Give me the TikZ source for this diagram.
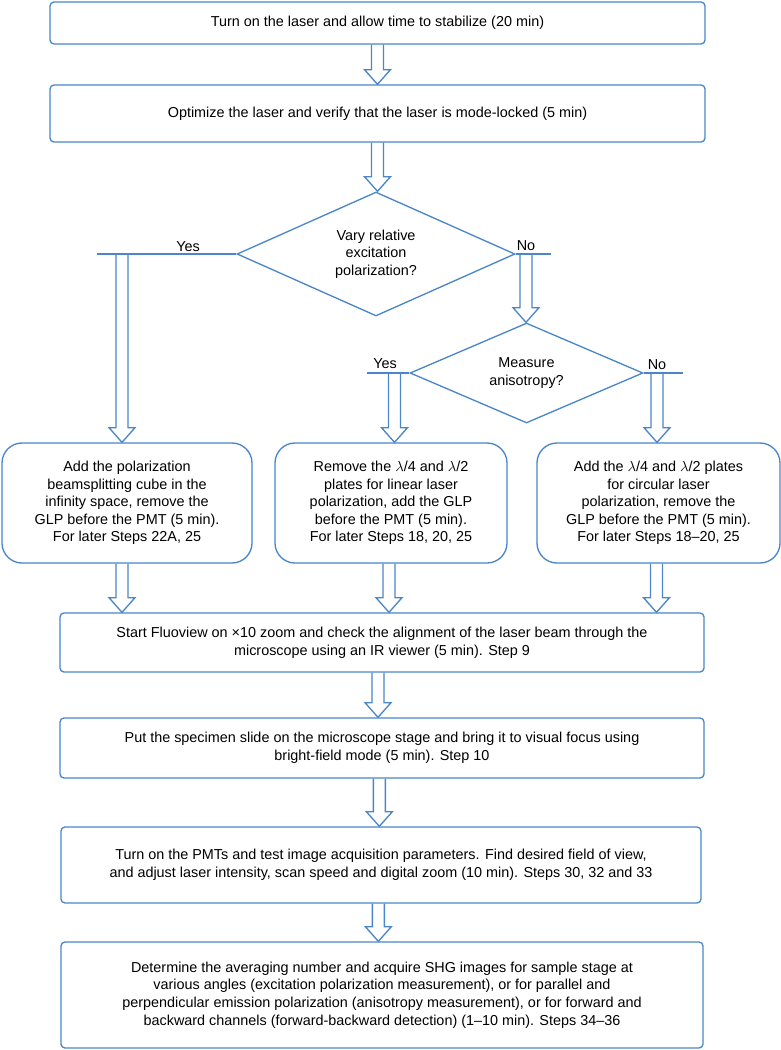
\documentclass[tikz,border=0pt]{standalone}
\usepackage{fontspec}
\setmainfont{Liberation Sans}
\usetikzlibrary{shapes.geometric,calc}
\definecolor{flowblue}{RGB}{74,134,200}
\begin{document}
\begin{tikzpicture}[x=0.75pt,y=-0.75pt,
  font=\fontsize{10.8pt}{13.2pt}\selectfont,
  box/.style={draw=flowblue, line width=1pt, rounded corners=3pt, align=center, inner sep=0pt},
  bigbox/.style={box, rounded corners=15pt},
  decision/.style={draw=flowblue, line width=1pt, diamond, align=center, inner sep=0pt},
  branch/.style={draw=flowblue, line width=1pt},
  hollow/.style={draw=flowblue, line width=1pt, to path={let \p1=(\tikztostart), \p2=(\tikztotarget) in
    (\x1-4.5pt,\y1) -- (\x1-4.5pt,\y2+11pt) -- (\x1-9.75pt,\y2+11pt) -- (\x1,\y2)
    -- (\x1+9.75pt,\y2+11pt) -- (\x1+4.5pt,\y2+11pt) -- (\x1+4.5pt,\y1)}}]
\useasboundingbox (0,0) rectangle (781,1050);
\node[box, minimum width=491.25pt, minimum height=31.5pt] (laser) at (377.5,23) {Turn on the laser and allow time to stabilize (20 min)};
\node[box, minimum width=491.25pt, minimum height=42.75pt] (optim) at (377.5,113.5) {Optimize the laser and verify that the laser is mode-locked (5 min)};
\draw[hollow] (laser.south) to (optim.north);
\node[decision, aspect=2.2, minimum width=208.5pt, minimum height=93pt] (vary) at (376,254) {Vary relative\\excitation\\polarization?};
\draw[hollow] (optim.south) to (vary.north);
% first decision: yes / no
\coordinate (yesL) at (97,254);
\coordinate (yesA) at (122,254);
\coordinate (noR) at (551,254);
\coordinate (noA) at (526,254);
\draw[branch] (vary.west) -- (yesL);
\draw[branch] (vary.east) -- (noR);
\node[anchor=base] (yes1) at (188,251) {Yes};
\node[anchor=base] (no1) at (526,250) {No};
\node[decision, aspect=2.3, minimum width=174.75pt, minimum height=75pt] (aniso) at (526.5,373) {Measure\\anisotropy?};
\draw[hollow] (noA) to (aniso.north);
% second decision: yes / no
\coordinate (yesM) at (367,373);
\coordinate (yesMA) at (394.5,373);
\coordinate (noM) at (683,373);
\coordinate (noMA) at (657,373);
\draw[branch] (aniso.west) -- (yesM);
\draw[branch] (aniso.east) -- (noM);
\node[anchor=base] (yes2) at (385,368) {Yes};
\node[anchor=base] (no2) at (657,369) {No};
% three set-ups
\node[bigbox, minimum width=187.5pt, minimum height=90pt] (cube) at (127,503) {Add the polarization\\beamsplitting cube in the\\infinity space, remove the\\GLP before the PMT (5 min).\\For later Steps 22A, 25};
\node[bigbox, minimum width=174pt, minimum height=90pt] (linear) at (391,503) {Remove the $\lambda$/4 and $\lambda$/2\\plates for linear laser\\polarization, add the GLP\\before the PMT (5 min).\\For later Steps 18, 20, 25};
\node[bigbox, minimum width=182.25pt, minimum height=90pt] (circ) at (658.5,503) {Add the $\lambda$/4 and $\lambda$/2 plates\\for circular laser\\polarization, remove the\\GLP before the PMT (5 min).\\For later Steps 18--20, 25};
\draw[hollow] (yesA) to (cube.north);
\draw[hollow] (yesMA) to (linear.north);
\draw[hollow] (noMA) to (circ.north);
\node[box, minimum width=483pt, minimum height=44.25pt] (fluo) at (382,642.5) {Start Fluoview on ×10 zoom and check the alignment of the laser beam through the\\microscope using an IR viewer (5 min). Step 9};
\draw[hollow] ([xshift=-3.75pt]cube.south) to (fluo.north);
\draw[hollow] ([xshift=-1.5pt]linear.south) to (fluo.north);
\draw[hollow] ([xshift=-1.5pt]circ.south) to (fluo.north);
\node[box, minimum width=483pt, minimum height=45pt] (slide) at (382,748) {Put the specimen slide on the microscope stage and bring it to visual focus using\\bright-field mode (5 min). Step 10};
\draw[hollow] ([xshift=-3pt]fluo.south) to (slide.north);
\node[box, minimum width=480pt, minimum height=57pt] (pmt) at (381,865) {Turn on the PMTs and test image acquisition parameters. Find desired field of view,\\and adjust laser intensity, scan speed and digital zoom (10 min). Steps 30, 32 and 33};
\draw[hollow] ([xshift=-2pt]slide.south) to (pmt.north);
\node[box, minimum width=481.5pt, minimum height=79.5pt] (shg) at (382,995) {Determine the averaging number and acquire SHG images for sample stage at\\various angles (excitation polarization measurement), or for parallel and\\perpendicular emission polarization (anisotropy measurement), or for forward and\\backward channels (forward-backward detection) (1--10 min). Steps 34--36};
\draw[hollow] ([xshift=-2pt]pmt.south) to (shg.north);
\end{tikzpicture}
\end{document}
